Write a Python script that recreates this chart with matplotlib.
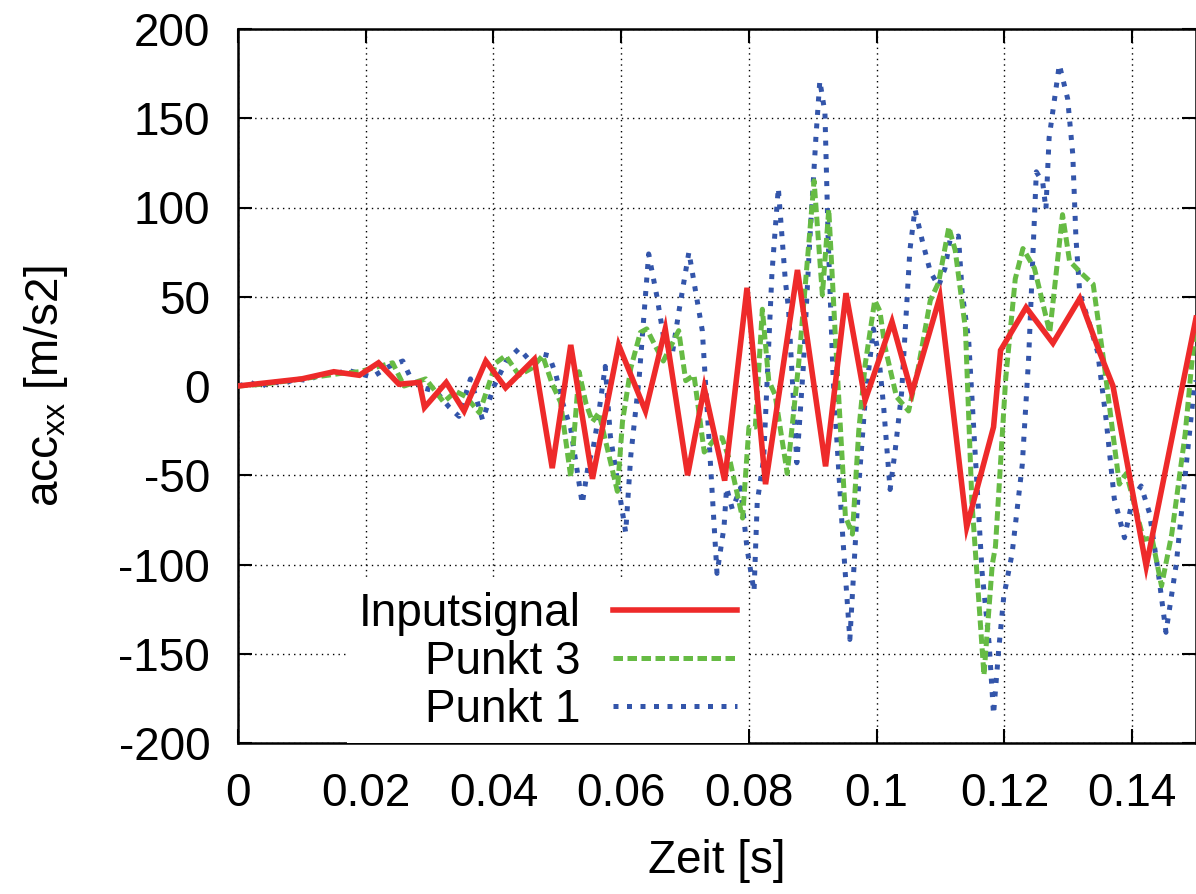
import numpy as np
import matplotlib
matplotlib.use("Agg")
import matplotlib.pyplot as plt
from matplotlib.ticker import FormatStrFormatter

plt.rcParams['font.family'] = ['Liberation Sans', 'DejaVu Sans']
plt.rcParams['mathtext.default'] = 'regular'

# Inputsignal (red, solid)
red_t = [0, 0.005, 0.010, 0.015, 0.019, 0.0220, 0.0252, 0.0284, 0.0292, 0.0326,
         0.0354, 0.0388, 0.0419, 0.0464, 0.0492, 0.0521, 0.0555, 0.0596, 0.0638,
         0.0669, 0.0704, 0.0730, 0.0762, 0.0797, 0.0826, 0.0876, 0.0920, 0.0952,
         0.0982, 0.1024, 0.1055, 0.1099, 0.1141, 0.1183, 0.1194, 0.1234, 0.1276,
         0.1318, 0.1349, 0.1370, 0.1422, 0.1500]
red_v = [0, 2, 4, 8, 6, 13, 1, 2, -12, 2,
         -14, 14, -1, 15, -46, 23, -52, 23, -14,
         32, -50, -1, -53, 55, -55, 65, -45, 52,
         -8, 36, -4, 50, -79, -23, 20, 44, 24,
         49, 19, 0, -101, 38]

# Punkt 3 (green, dashed)
green_t = [0, 0.004, 0.008, 0.012, 0.016, 0.019, 0.0221, 0.0242, 0.0260, 0.0294,
           0.0322, 0.0341, 0.0357, 0.0378, 0.0404, 0.0419, 0.0440, 0.0460, 0.0477,
           0.0492, 0.0505, 0.0521, 0.0534, 0.0545, 0.0555, 0.0565, 0.0575, 0.0594,
           0.0602, 0.0615, 0.0630, 0.0640, 0.0654, 0.0666, 0.0690, 0.0701, 0.0714,
           0.0730, 0.0748, 0.0758, 0.0771, 0.0790, 0.0800, 0.0810, 0.0821, 0.0831,
           0.0841, 0.0860, 0.0878, 0.0902, 0.0915, 0.0925, 0.0936, 0.0951, 0.0962,
           0.0972, 0.0982, 0.0997, 0.1005, 0.1013, 0.1031, 0.1050, 0.1065, 0.1084,
           0.1097, 0.1113, 0.1123, 0.1139, 0.1149, 0.1168, 0.1181, 0.1186, 0.1202,
           0.1217, 0.1229, 0.1247, 0.1271, 0.1291, 0.1302, 0.1321, 0.1339, 0.1357,
           0.1370, 0.1380, 0.1391, 0.1407, 0.1418, 0.1431, 0.1446, 0.1462, 0.1483,
           0.1500]
green_v = [0, 1, 3, 5, 7, 8, 11, 13, 0, 4,
           -9, -3, -6, -15, 13, 17, 6, 10, 17,
           1, -9, -51, 8, -10, -20, -15, -30, -59,
           -20, 10, 30, 32, 22, 14, 31, 3, 6,
           -37, -29, -29, -43, -74, -23, -23, 43, 3,
           -5, -49, 13, 115, 51, 99, 23, -73, -83,
           -25, 12, 48, 42, 22, -6, -14, 10, 48,
           58, 89, 76, 32, -64, -162, -100, -90, 4,
           60, 77, 66, 30, 96, 70, 63, 57, 10,
           -27, -55, -49, -71, -86, -85, -112, -83, -27,
           38]

# Punkt 1 (blue, dotted)
blue_t = [0, 0.002, 0.0035, 0.005, 0.007, 0.009, 0.011, 0.013, 0.015, 0.017,
          0.019, 0.0210, 0.0237, 0.0258, 0.0271, 0.0289, 0.0310, 0.0331, 0.0346,
          0.0364, 0.0383, 0.0401, 0.0420, 0.0440, 0.0460, 0.0475, 0.0487, 0.0498,
          0.0508, 0.0521, 0.0539, 0.0549, 0.0556, 0.0563, 0.0575, 0.0583, 0.0607,
          0.0615, 0.0628, 0.0643, 0.0656, 0.0667, 0.0680, 0.0690, 0.0706, 0.0716,
          0.0727, 0.0737, 0.0750, 0.0761, 0.0765, 0.0774, 0.0787, 0.0797, 0.0808,
          0.0813, 0.0823, 0.0836, 0.0846, 0.0857, 0.0862, 0.0875, 0.0885, 0.0895,
          0.0905, 0.0911, 0.0919, 0.0924, 0.0932, 0.0947, 0.0958, 0.0971, 0.0982,
          0.0995, 0.1003, 0.1011, 0.1021, 0.1029, 0.1039, 0.1052, 0.1060, 0.1071,
          0.1084, 0.1097, 0.1107, 0.1115, 0.1128, 0.1134, 0.1144, 0.1152, 0.1165,
          0.1176, 0.1183, 0.1191, 0.1199, 0.1212, 0.1228, 0.1238, 0.1250, 0.1260,
          0.1265, 0.1270, 0.1286, 0.1299, 0.1307, 0.1312, 0.1318, 0.1333, 0.1346,
          0.1359, 0.1372, 0.1388, 0.1401, 0.1414, 0.1427, 0.1440, 0.1453, 0.1469,
          0.1482, 0.1497, 0.1500]
blue_v = [0, 2, -1, 3, 1, 4, 3, 7, 6, 9,
          7, 5, 11, 14, 4, -1, -3, -12, -17,
          4, -19, 0, 14, 21, 13, 18, 17, 6,
          -9, -24, -66, -43, -35, -20, 11, -28, -82,
          -39, 4, 74, 50, 26, 18, 41, 75, 54,
          31, -27, -105, -79, -57, -69, -57, -91, -115,
          -65, -41, 63, 111, 59, 43, -43, 10, 80,
          140, 171, 153, 83, 3, -85, -142, -60, -8,
          32, 18, -12, -58, -36, -4, 76, 99, 82,
          64, 56, 66, 82, 84, 52, 26, -24, -104,
          -144, -184, -148, -118, -94, -44, 16, 120, 114,
          99, 139, 180, 161, 130, 83, 52, 35, 19,
          -18, -63, -85, -63, -56, -71, -102, -138, -100,
          -54, -1, 3]

labels = ['Inputsignal', 'Punkt 3', 'Punkt 1']
x_ticks = [0, 0.02, 0.04, 0.06, 0.08, 0.10, 0.12, 0.14]
y_ticks = [-200, -150, -100, -50, 0, 50, 100, 150, 200]

fs = 33
fig = plt.figure(figsize=(11.96, 8.94), dpi=100)
ax = fig.add_axes([238 / 1196, 1 - 743 / 894, (1196 - 238) / 1196, (743 - 29) / 894])

ax.plot(red_t, red_v, color='#ee2a2a', lw=4.0, solid_joinstyle='miter', label=labels[0], zorder=5)
ax.plot(green_t, green_v, color='#66bb44', lw=3.6, linestyle=(0, (1.9, 0.9)), label=labels[1], zorder=4)
ax.plot(blue_t, blue_v, color='#3355aa', lw=3.6, linestyle=(0, (1.0, 1.7)), label=labels[2], zorder=3)

ax.set_xlim(0, 0.15)
ax.set_ylim(-200, 200)
ax.set_xticks(x_ticks)
ax.set_yticks(y_ticks)
ax.xaxis.set_major_formatter(FormatStrFormatter('%g'))
ax.yaxis.set_major_formatter(FormatStrFormatter('%g'))
ax.tick_params(direction='in', length=10, width=1.5, labelsize=fs,
               top=True, right=True)
ax.tick_params(axis='x', pad=21)
ax.tick_params(axis='y', pad=20)
for s in ax.spines.values():
    s.set_linewidth(1.8)

ax.grid(True, color='black', linestyle=(0, (1, 3)), linewidth=1.0)
ax.set_axisbelow(True)

ax.set_xlabel('Zeit [s]', fontsize=fs)
ax.set_ylabel('acc$_{xx}$ [m/s2]', fontsize=fs)
ax.xaxis.set_label_coords(0.5, -0.134)
ax.yaxis.set_label_coords(-0.175, 0.5)

leg = ax.legend(loc='lower right', bbox_to_anchor=((748 - 238) / 958, 0.0),
                borderaxespad=0, borderpad=0.25, fontsize=fs, markerfirst=False,
                handlelength=2.7, handletextpad=0.7, labelspacing=0.08,
                frameon=True, fancybox=False, framealpha=1.0)
leg.get_frame().set_facecolor('white')
leg.get_frame().set_edgecolor('none')
leg.set_zorder(10)

fig.savefig('out.png', dpi=100)
